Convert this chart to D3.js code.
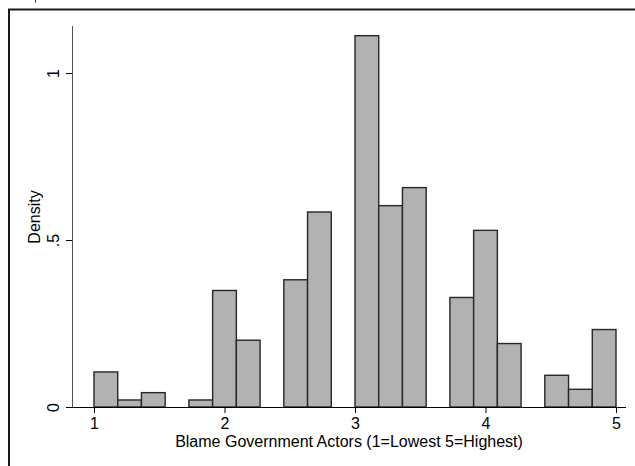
<!DOCTYPE html>
<html>
<head>
<meta charset="utf-8">
<script src="https://cdn.jsdelivr.net/npm/d3@7"></script>
<style>
  html, body { margin: 0; padding: 0; background: #fff; overflow: hidden; }
  svg { display: block; }
  text { font-family: "Liberation Sans", Arial, Helvetica, sans-serif; fill: #000; }
</style>
</head>
<body>
<svg id="chart" width="635" height="466"></svg>
<script>
// Histogram: 22 equal-width bins between 1 and 5
const binStart = 1;
const binEnd = 5;
const binCount = 22;
const densities = [0.105, 0.021, 0.043, 0, 0.021, 0.349, 0.200, 0,
                   0.381, 0.584, 0, 1.112, 0.603, 0.657, 0,
                   0.328, 0.529, 0.190, 0, 0.095, 0.053, 0.232];
const xTicks = [1, 2, 3, 4, 5];
const yTicks = [0, 0.5, 1];
const yTickLabels = ["0", ".5", "1"];
const xTitle = "Blame Government Actors (1=Lowest 5=Highest)";
const yTitle = "Density";

const svg = d3.select("#chart");
const W = 635, H = 466;
const fontSize = "16px";

// outer graph frame (only its top-left corner falls inside the view)
svg.append("path")
  .attr("d", `M9,${H}V9.5H${W}`)
  .attr("fill", "none").attr("stroke", "#1a1a1a").attr("stroke-width", 2);
svg.append("line")
  .attr("x1", 35.5).attr("x2", 35.5).attr("y1", 0).attr("y2", 2.5)
  .attr("stroke", "#222").attr("stroke-width", 1);

const x = d3.scaleLinear().domain([0.8315, 5.0766]).range([72, 626]);
const y = d3.scaleLinear().domain([0, 1.141]).range([407, 26]);

const binW = (binEnd - binStart) / binCount;
const bins = densities.map((d, i) => ({ x0: binStart + i * binW, x1: binStart + (i + 1) * binW, d }));

// bars
svg.append("g").selectAll("rect")
  .data(bins.filter(b => b.d > 0))
  .join("rect")
  .attr("x", b => x(b.x0))
  .attr("y", b => y(b.d))
  .attr("width", b => x(b.x1) - x(b.x0))
  .attr("height", b => y(0) - y(b.d))
  .attr("fill", "#b2b2b2")
  .attr("stroke", "#262626")
  .attr("stroke-width", 1.4);

// x axis
const xAxis = svg.append("g").attr("transform", `translate(0,${y(0)})`)
  .call(d3.axisBottom(x).tickValues(xTicks).tickFormat(d3.format("d")).tickSize(6).tickPadding(5));
xAxis.select(".domain").attr("d", `M${x.range()[0]},0.5H${x.range()[1]}`).attr("stroke", "#000");
xAxis.selectAll(".tick line").attr("stroke", "#000");
xAxis.selectAll("text").style("font-size", fontSize).attr("fill", "#000");

// y axis, labels turned to read upward
const yAxis = svg.append("g").attr("transform", `translate(${x.range()[0]},0)`)
  .call(d3.axisLeft(y).tickValues(yTicks).tickFormat((d, i) => yTickLabels[i]).tickSize(6));
yAxis.select(".domain").attr("d", `M0.5,${y.range()[1]}V${y.range()[0]}`).attr("stroke", "#555");
yAxis.selectAll(".tick line").attr("stroke", "#000");
yAxis.selectAll(".tick text")
  .style("font-size", fontSize)
  .attr("fill", "#000")
  .attr("text-anchor", "middle")
  .attr("x", 0)
  .attr("y", 0)
  .attr("dy", "0.35em")
  .attr("transform", "translate(-19,0) rotate(-90)");

// axis titles
svg.append("text")
  .attr("x", (x.range()[0] + x.range()[1]) / 2)
  .attr("y", 447)
  .attr("text-anchor", "middle")
  .style("font-size", fontSize)
  .text(xTitle);

svg.append("text")
  .attr("transform", `translate(40,217) rotate(-90)`)
  .attr("text-anchor", "middle")
  .style("font-size", fontSize)
  .text(yTitle);
</script>
</body>
</html>
